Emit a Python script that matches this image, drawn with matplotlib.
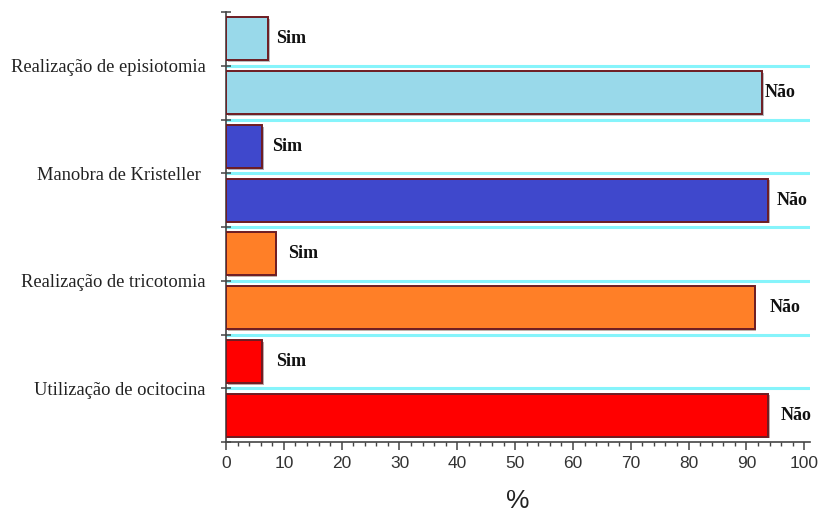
"""Horizontal bar chart of obstetric interventions (Sim / Não), saved as out.png."""
import matplotlib.pyplot as plt
import matplotlib.patheffects as pe
from matplotlib.ticker import MultipleLocator

categories = [
    "Realização de episiotomia",
    "Manobra de Kristeller ",
    "Realização de tricotomia",
    "Utilização de ocitocina",
]
sim_pct = [7.3, 6.2, 8.6, 6.2]
nao_pct = [92.7, 93.8, 91.4, 93.8]
bar_colors = ["#99d9ea", "#3f48cc", "#ff7f27", "#ff0000"]
x_ticks = [0, 10, 20, 30, 40, 50, 60, 70, 80, 90, 100]

# gap (points) between bar end and its Sim / Não label
sim_gap = [6, 7, 9, 10]
nao_gap = [2, 6, 11, 9]

fig = plt.figure(figsize=(8.18, 5.13), dpi=100)
ax = fig.add_axes([0.2763, 0.1384, 0.714, 0.8382])

n_slots = 2 * len(categories)
shadow = [pe.SimplePatchShadow(offset=(1.2, -1.2), alpha=0.35), pe.Normal()]

for i, (cat, s, n, c) in enumerate(zip(categories, sim_pct, nao_pct, bar_colors)):
    y_sim = n_slots - (2 * i + 0.5)
    y_nao = n_slots - (2 * i + 1.5)
    for y, v, txt, gap in ((y_sim, s, "Sim", sim_gap[i]), (y_nao, n, "Não", nao_gap[i])):
        bar = ax.barh(y, v, height=0.8, color=c, edgecolor="#6e1c22",
                      linewidth=1.4, zorder=3)
        bar[0].set_path_effects(shadow)
        ax.annotate(txt, (v, y), xytext=(gap, 0), textcoords="offset points",
                    ha="left", va="center", fontsize=13, fontweight="bold",
                    family="Liberation Serif", color="#111111")

# cyan separators between every bar slot
for k in range(1, n_slots):
    ax.axhline(k, color="#86f4fb", linewidth=2.2, zorder=1)

ax.set_xlim(0, 101)
ax.set_ylim(0, n_slots)
ax.set_xticks(x_ticks)
ax.xaxis.set_minor_locator(MultipleLocator(2))
ax.tick_params(axis="x", which="major", direction="out", length=6, width=1.1,
               color="#444444", labelsize=12.5, labelcolor="#333333", pad=4)
ax.tick_params(axis="x", which="minor", direction="out", length=3, width=1,
               color="#444444")
for lab in ax.get_xticklabels():
    lab.set_family("Liberation Sans")

ylabels = [""] * (n_slots + 1)
for i, cat in enumerate(categories):
    ylabels[n_slots - (2 * i + 1)] = cat
ax.set_yticks(range(n_slots + 1))
ax.set_yticklabels(ylabels, family="Liberation Serif", fontsize=13.3,
                   color="#222222")
ax.tick_params(axis="y", direction="inout", length=7, width=1.1,
               color="#444444", pad=11)

for side in ("top", "right"):
    ax.spines[side].set_visible(False)
for side in ("left", "bottom"):
    ax.spines[side].set_color("#444444")
    ax.spines[side].set_linewidth(1.2)

ax.set_xlabel("%", family="Liberation Sans", fontsize=19, color="#222222",
              labelpad=13)

fig.savefig("out.png", dpi=100)
